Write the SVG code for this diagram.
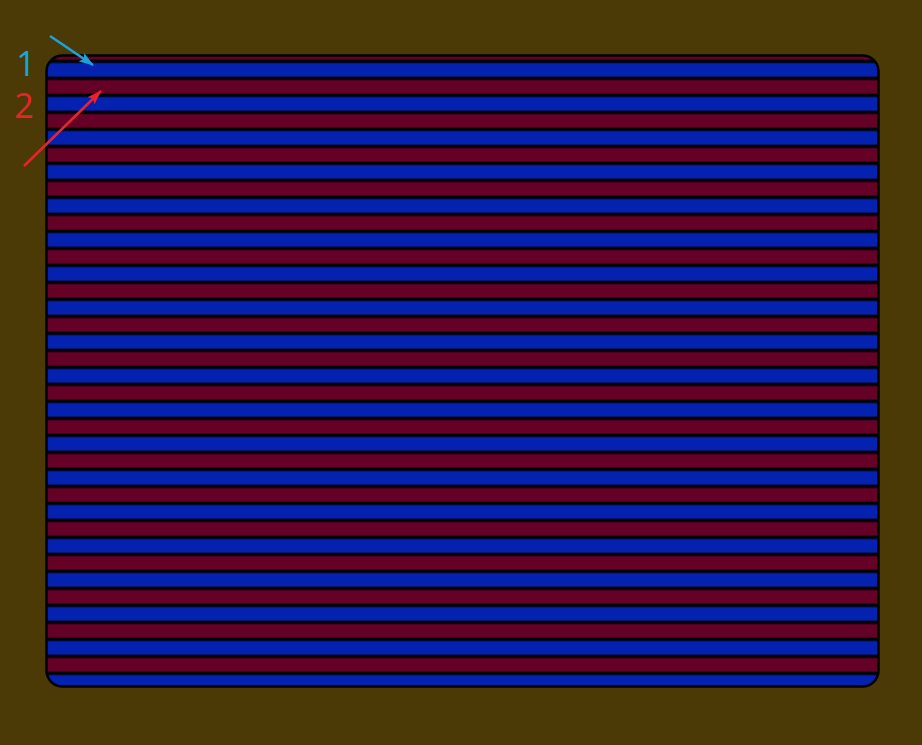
<svg xmlns="http://www.w3.org/2000/svg" width="922" height="745" viewBox="0 0 922 745">
<style>
.lbl{font-family:"Open Sans","Noto Sans",sans-serif;font-size:34px;text-anchor:middle}
</style>
<defs>
<pattern id="stripes" patternUnits="userSpaceOnUse" x="0" y="59.6" width="922" height="34">
<rect x="0" y="0" width="922" height="34" fill="#000"/>
<rect x="0" y="3.4" width="922" height="13.6" fill="#0521b0"/>
<rect x="0" y="20.4" width="922" height="13.6" fill="#650026"/>
</pattern>
<marker id="ahB" viewBox="0 0 15 10" refX="14" refY="5" markerWidth="15" markerHeight="10" markerUnits="userSpaceOnUse" orient="auto">
<path d="M0,0 L15,5 L0,10 L3,5 Z" fill="#1ba3dd"/>
</marker>
<marker id="ahR" viewBox="0 0 15 10" refX="14" refY="5" markerWidth="15" markerHeight="10" markerUnits="userSpaceOnUse" orient="auto">
<path d="M0,0 L15,5 L0,10 L3,5 Z" fill="#e8242b"/>
</marker>
</defs>
<rect width="922" height="745" fill="#4b3a06"/>
<g id="panel">
<rect x="46.5" y="55.5" width="832" height="631" rx="16" ry="16" fill="url(#stripes)" stroke="#000" stroke-width="2.5"/>
</g>
<g id="label1">
<text class="lbl" x="26" y="76" fill="#1ba3dd">1</text>
</g>
<g id="label2">
<text class="lbl" x="24" y="118" fill="#e8242b">2</text>
</g>
<g id="connectors">
<line x1="50" y1="36" x2="93" y2="65" stroke="#1ba3dd" stroke-width="2.5" marker-end="url(#ahB)"/>
<line x1="24" y1="166" x2="101" y2="91" stroke="#e8242b" stroke-width="2.5" marker-end="url(#ahR)"/>
</g>
</svg>
